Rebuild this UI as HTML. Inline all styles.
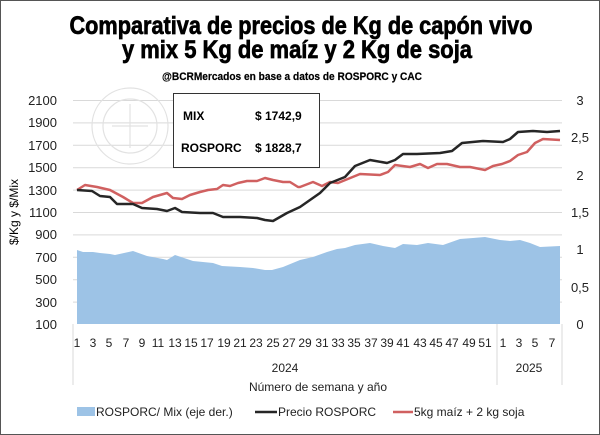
<!DOCTYPE html>
<html><head><meta charset="utf-8"><style>
html,body{margin:0;padding:0;background:#fff}
svg{display:block}
text{font-family:"Liberation Sans",sans-serif}
</style></head><body>
<svg width="600" height="435" viewBox="0 0 600 435" xmlns="http://www.w3.org/2000/svg">
<rect x="0.5" y="0.5" width="599" height="434" fill="#fff" stroke="#555" stroke-width="1"/>
<text x="301" y="34" font-size="25" font-weight="bold" stroke="#000" stroke-width="0.7" text-anchor="middle" textLength="463" lengthAdjust="spacingAndGlyphs">Comparativa de precios de Kg de capón vivo</text>
<text x="297" y="58" font-size="25" font-weight="bold" stroke="#000" stroke-width="0.7" text-anchor="middle" textLength="350" lengthAdjust="spacingAndGlyphs">y mix 5 Kg de maíz y 2 Kg de soja</text>
<text x="292" y="80" font-size="11" font-weight="bold" stroke="#000" stroke-width="0.2" text-anchor="middle" textLength="260" lengthAdjust="spacingAndGlyphs">@BCRMercados  en base a datos de ROSPORC y CAC</text>
<g stroke="#d9d9d9" stroke-width="1">
<line x1="73" x2="562" y1="100.5" y2="100.5"/><line x1="73" x2="562" y1="122.9" y2="122.9"/><line x1="73" x2="562" y1="145.3" y2="145.3"/><line x1="73" x2="562" y1="167.7" y2="167.7"/><line x1="73" x2="562" y1="190.1" y2="190.1"/><line x1="73" x2="562" y1="212.5" y2="212.5"/><line x1="73" x2="562" y1="234.9" y2="234.9"/><line x1="73" x2="562" y1="257.3" y2="257.3"/><line x1="73" x2="562" y1="279.7" y2="279.7"/><line x1="73" x2="562" y1="302.1" y2="302.1"/>
</g>
<g fill="none" stroke="#e2e2e2" stroke-width="1.2">
<circle cx="130" cy="126" r="38"/><circle cx="130" cy="126" r="27"/>
<line x1="112" y1="126" x2="148" y2="126"/><line x1="130" y1="104" x2="130" y2="148"/>
</g>
<path fill="#9dc3e6" d="M77,250 L83,252 L93,252 L100,253 L110,254 L115,255 L133,251 L147,256 L163,259 L167,260 L175,255 L193,261 L213,263 L222,266 L240,267 L253,268 L265,270 L272,270 L283,267 L300,260 L313,257 L327,252 L337,249 L345,248 L355,245 L370,243 L383,246 L395,248 L403,244 L417,245 L428,243 L443,245 L460,239 L473,238 L485,237 L500,240 L510,241 L520,240 L530,243 L540,247 L560,246 L560,324 L77,324 Z"/>
<polyline fill="none" stroke="#d06060" stroke-width="2.5" stroke-linejoin="round" points="77,190 85,185 97,187 110,190 123,197 133,203 142,203 153,197 167,193 173,198 182,199 190,195 200,192 208,190 217,189 223,185 230,186 238,183 247,181 257,181 265,178 273,180 283,182 290,182 298,187 300,187 313,182 322,186 330,182 338,183 360,174 380,175 388,172 395,165 410,167 420,164 428,168 437,164 447,164 460,167 470,167 485,170 493,166 502,164 510,161 518,155 527,152 535,143 543,139 560,140"/>
<polyline fill="none" stroke="#262626" stroke-width="2.5" stroke-linejoin="round" points="77,190 92,191 100,196 110,197 117,204 133,204 142,208 157,209 167,211 175,208 182,212 200,213 213,213 223,217 240,217 257,218 265,220 273,221 287,213 300,207 320,193 330,183 345,177 355,166 370,160 387,163 395,160 403,154 417,154 440,153 452,151 462,143 483,141 503,142 510,139 518,132 533,131 547,132 560,131"/>
<rect x="173.5" y="93.5" width="146" height="74" fill="#fff" stroke="#333" stroke-width="1"/>
<g font-size="12" font-weight="bold">
<text x="183" y="120">MIX</text><text x="255" y="120">$ 1742,9</text>
<text x="181" y="152">ROSPORC</text><text x="255" y="152">$ 1828,7</text>
</g>
<g font-size="13" text-anchor="end" fill="#222">
<text x="57" y="105">2100</text><text x="57" y="127">1900</text><text x="57" y="150">1700</text><text x="57" y="172">1500</text><text x="57" y="195">1300</text><text x="57" y="217">1100</text><text x="57" y="239">900</text><text x="57" y="262">700</text><text x="57" y="284">500</text><text x="57" y="307">300</text><text x="57" y="329">100</text>
</g>
<g font-size="13" text-anchor="middle" fill="#222">
<text x="580" y="105">3</text><text x="580" y="142">2,5</text><text x="580" y="180">2</text><text x="580" y="217">1,5</text><text x="580" y="254">1</text><text x="580" y="292">0,5</text><text x="580" y="329">0</text>
</g>
<text transform="translate(18,212) rotate(-90)" font-size="12" text-anchor="middle">$/Kg y $/Mix</text>
<g stroke="#d9d9d9"><line x1="73" y1="324" x2="73" y2="385"/><line x1="497" y1="324" x2="497" y2="385"/><line x1="562" y1="324" x2="562" y2="385"/></g>
<g font-size="12" text-anchor="middle" fill="#222">
<text x="77" y="347">1</text><text x="93" y="347">3</text><text x="109" y="347">5</text><text x="126" y="347">7</text><text x="142" y="347">9</text><text x="158" y="347">11</text><text x="175" y="347">13</text><text x="191" y="347">15</text><text x="207" y="347">17</text><text x="224" y="347">19</text><text x="240" y="347">21</text><text x="256" y="347">23</text><text x="273" y="347">25</text><text x="289" y="347">27</text><text x="305" y="347">29</text><text x="322" y="347">31</text><text x="338" y="347">33</text><text x="354" y="347">35</text><text x="371" y="347">37</text><text x="387" y="347">39</text><text x="403" y="347">41</text><text x="420" y="347">43</text><text x="436" y="347">45</text><text x="452" y="347">47</text><text x="469" y="347">49</text><text x="485" y="347">51</text><text x="503" y="347">1</text><text x="519" y="347">3</text><text x="535" y="347">5</text><text x="552" y="347">7</text>
<text x="285" y="372">2024</text><text x="529" y="372">2025</text>
<text x="318" y="391">Número de semana y año</text>
</g>
<g font-size="12" fill="#222">
<rect x="77" y="407" width="18" height="9" fill="#9dc3e6"/>
<text x="96" y="416">ROSPORC/ Mix (eje der.)</text>
<line x1="255" y1="412" x2="277" y2="412" stroke="#262626" stroke-width="2.5"/>
<text x="278" y="416">Precio ROSPORC</text>
<line x1="393" y1="412" x2="413" y2="412" stroke="#d06060" stroke-width="2.5"/>
<text x="414" y="416">5kg maíz + 2 kg soja</text>
</g>
</svg>
</body></html>
